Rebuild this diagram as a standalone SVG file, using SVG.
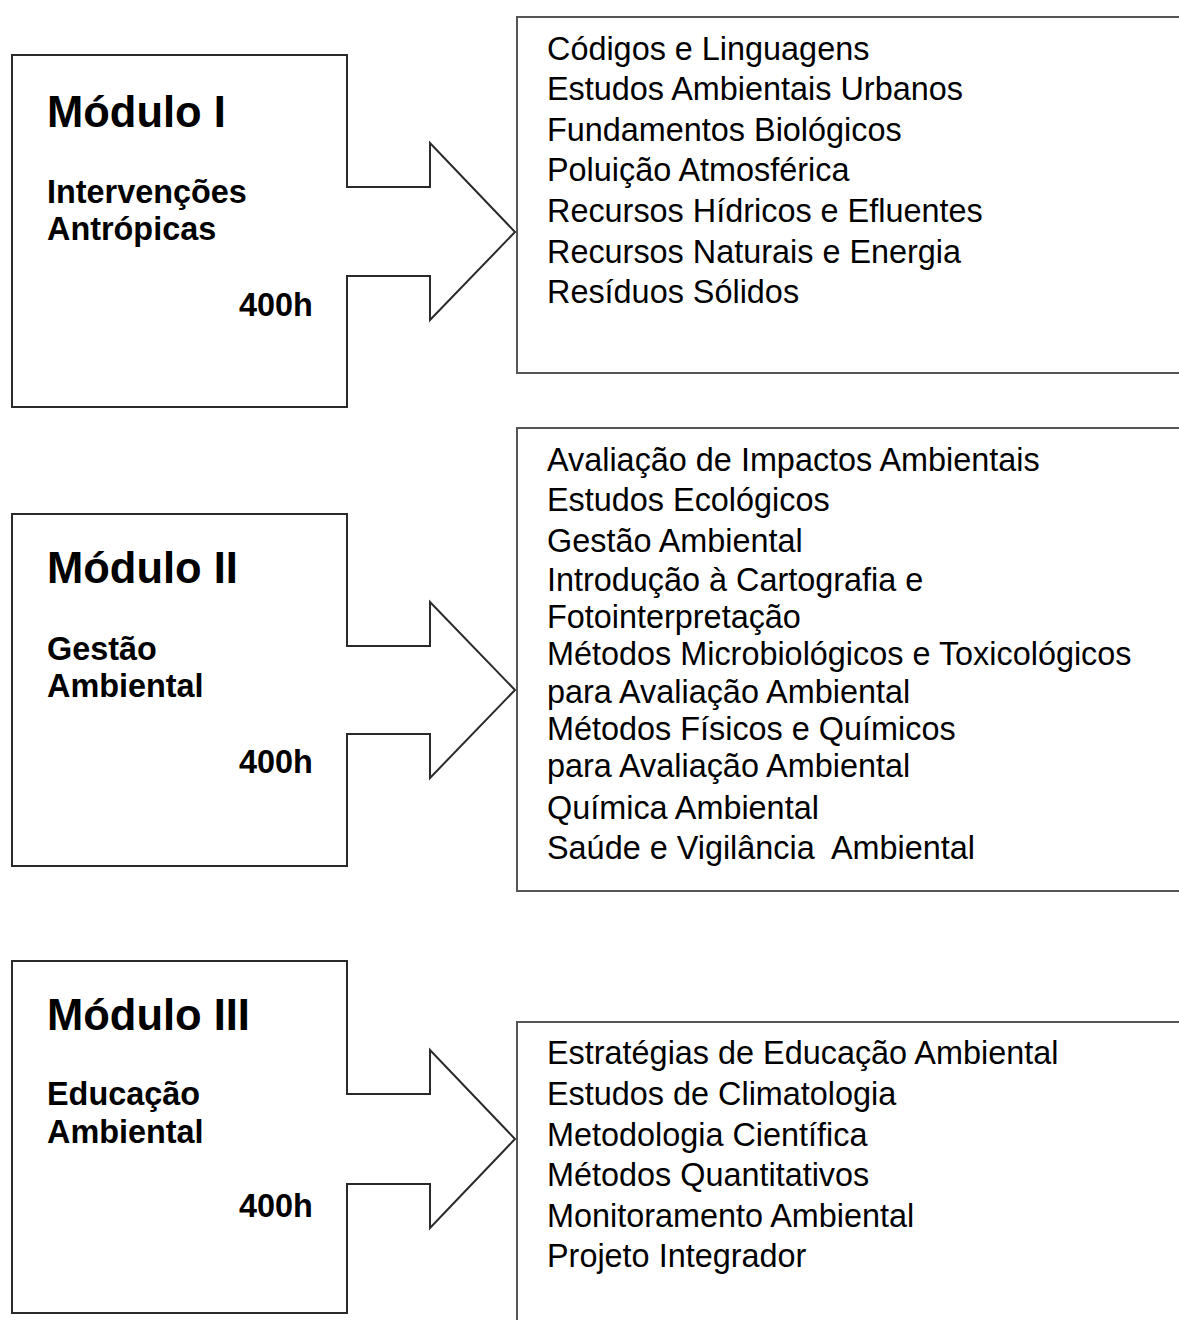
<svg xmlns="http://www.w3.org/2000/svg" width="1179" height="1320" viewBox="0 0 1179 1320">
  <style>
    .shape { fill: #ffffff; stroke: #2a2a2a; stroke-width: 2; stroke-linejoin: miter; }
    .list-box { fill: #ffffff; stroke: #555555; stroke-width: 2; }
    .title { font-family: "Liberation Sans", Arial, sans-serif; font-weight: bold; font-size: 43.5px; fill: #000; }
    .sub { font-family: "Liberation Sans", Arial, sans-serif; font-weight: bold; font-size: 32.4px; fill: #000; }
    .item { font-family: "Liberation Sans", Arial, sans-serif; font-size: 32.4px; fill: #000; white-space: pre; }
  </style>
  <rect x="0" y="0" width="1179" height="1320" fill="#ffffff"/>

  <!-- Module I: box merged with its block arrow -->
  <g id="modulo-1">
    <path class="shape" d="M12,55 H347 V187 H430 V143 L515,232 L430,320 V276 H347 V407 H12 Z"/>
    <text class="title" x="47" y="127">Módulo I</text>
    <text class="sub" x="47" y="203">Intervenções</text>
    <text class="sub" x="47" y="240">Antrópicas</text>
    <text class="sub" x="239" y="316">400h</text>
  </g>
  <g id="disciplinas-1">
    <rect class="list-box" x="517" y="17" width="700" height="356"/>
    <text class="item" x="547" y="60">Códigos e Linguagens</text>
    <text class="item" x="547" y="100">Estudos Ambientais Urbanos</text>
    <text class="item" x="547" y="141">Fundamentos Biológicos</text>
    <text class="item" x="547" y="181">Poluição Atmosférica</text>
    <text class="item" x="547" y="222">Recursos Hídricos e Efluentes</text>
    <text class="item" x="547" y="263">Recursos Naturais e Energia</text>
    <text class="item" x="547" y="303">Resíduos Sólidos</text>
  </g>

  <!-- Module II -->
  <g id="modulo-2">
    <path class="shape" d="M12,514 H347 V646 H430 V602 L515,690 L430,778 V734 H347 V866 H12 Z"/>
    <text class="title" x="47" y="583">Módulo II</text>
    <text class="sub" x="47" y="660">Gestão</text>
    <text class="sub" x="47" y="697">Ambiental</text>
    <text class="sub" x="239" y="773">400h</text>
  </g>
  <g id="disciplinas-2">
    <rect class="list-box" x="517" y="428" width="700" height="463"/>
    <text class="item" x="547" y="471">Avaliação de Impactos Ambientais</text>
    <text class="item" x="547" y="511">Estudos Ecológicos</text>
    <text class="item" x="547" y="552">Gestão Ambiental</text>
    <text class="item" x="547" y="591">Introdução à Cartografia e</text>
    <text class="item" x="547" y="628">Fotointerpretação</text>
    <text class="item" x="547" y="665">Métodos Microbiológicos e Toxicológicos</text>
    <text class="item" x="547" y="703">para Avaliação Ambiental</text>
    <text class="item" x="547" y="740">Métodos Físicos e Químicos</text>
    <text class="item" x="547" y="777">para Avaliação Ambiental</text>
    <text class="item" x="547" y="819">Química Ambiental</text>
    <text class="item" x="547" y="859">Saúde e Vigilância  Ambiental</text>
  </g>

  <!-- Module III -->
  <g id="modulo-3">
    <path class="shape" d="M12,961 H347 V1094 H430 V1050 L515,1139 L430,1228 V1184 H347 V1313 H12 Z"/>
    <text class="title" x="47" y="1030">Módulo III</text>
    <text class="sub" x="47" y="1105">Educação</text>
    <text class="sub" x="47" y="1143">Ambiental</text>
    <text class="sub" x="239" y="1217">400h</text>
  </g>
  <g id="disciplinas-3">
    <rect class="list-box" x="517" y="1022" width="700" height="340"/>
    <text class="item" x="547" y="1064">Estratégias de Educação Ambiental</text>
    <text class="item" x="547" y="1105">Estudos de Climatologia</text>
    <text class="item" x="547" y="1146">Metodologia Científica</text>
    <text class="item" x="547" y="1186">Métodos Quantitativos</text>
    <text class="item" x="547" y="1227">Monitoramento Ambiental</text>
    <text class="item" x="547" y="1267">Projeto Integrador</text>
  </g>

  <!-- the block arrows are part of each module outline, so this group stays empty -->
  <g id="connectors"/>
</svg>
